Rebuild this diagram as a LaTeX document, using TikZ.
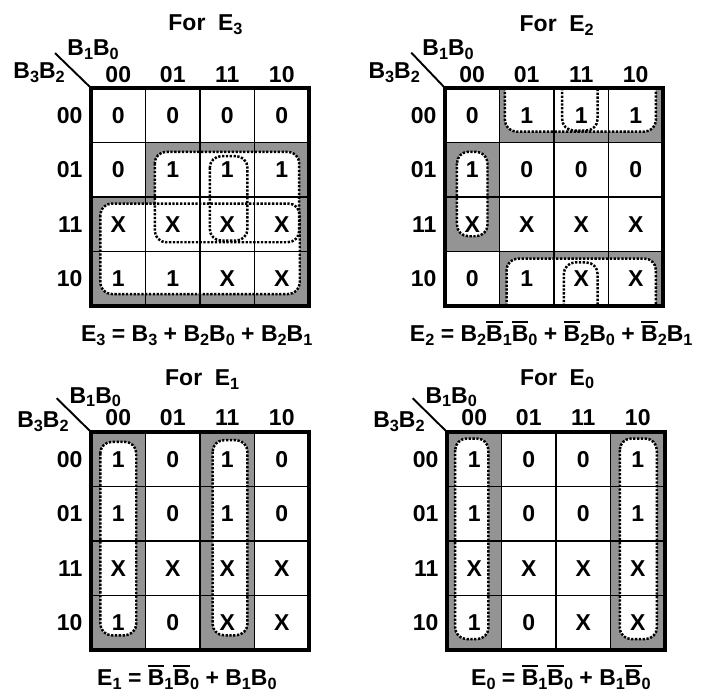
\documentclass[tikz,border=0pt]{standalone}
\usepackage{fontspec}
\setmainfont{Liberation Sans}
\newcommand\sub[1]{\raisebox{-2pt}{\fontsize{8.5}{9}\selectfont #1}}
\newcommand\nb[1]{\vbox{\hrule height 1.1pt\kern 1.2pt\hbox{#1}}}

\begin{document}
\begin{tikzpicture}[
  txt/.style={font=\bfseries\fontsize{12}{14}\selectfont, inner sep=0pt},
  title/.style={txt, anchor=base},
  hdr/.style={txt, anchor=base},
  rowlbl/.style={txt, anchor=east},
  val/.style={txt},
  eqn/.style={txt, anchor=base},
  shade/.style={fill=black!42},
  hole/.style={fill=white, rounded corners=6pt},
  kloop/.style={line width=1.3pt, dash pattern=on 1.2pt off 0.8pt, rounded corners=6pt},
  cellgrid/.style={line width=1pt},
  frame/.style={line width=2pt},
]
\useasboundingbox (0,0) rectangle (12.936,-12.789);

% ---------- Map for E3 ----------
\begin{scope}[shift={(1.67,-1.615)}]
\fill[shade] (1,-1) rectangle (4,-2) (0,-2) rectangle (4,-4);
\fill[hole] (1.17,-1.17) rectangle (3.82,-2.83);
\fill[hole] (0.17,-2.12) rectangle (3.83,-3.78);
\draw[cellgrid] (0,-4) grid (4,0);
\draw[frame] (0,0) rectangle (4,-4);
\draw[kloop] (1.17,-1.17) rectangle (3.82,-2.83);
\draw[kloop] (2.18,-1.25) rectangle (2.87,-2.8);
\draw[kloop] (0.17,-2.12) rectangle (3.83,-3.78);
\coordinate (e3o) at (0,0);
\draw[line width=1pt] (e3o) -- ++(-0.66,0.64);
\node[title] (e3t) at (2.1,1.05) {For\hspace{0.55em}E\sub{3}};
\node[hdr, anchor=base west] (e3b10) at (-0.44,0.6) {B\sub{1}B\sub{0}};
\node[hdr, anchor=base west] (e3b32) at (-1.43,0.18) {B\sub{3}B\sub{2}};
\foreach \l [count=\c from 0] in {00,01,11,10}
  \node[hdr] (e3c\c) at (\c+0.5,0.1) {\l};
\foreach \l [count=\r from 0] in {00,01,11,10}
  \node[rowlbl] (e3r\r) at (-0.15,-\r-0.5) {\l};
\foreach \v [count=\i from 0] in {0,0,0,0, 0,1,1,1, X,X,X,X, 1,1,X,X}{
  \pgfmathtruncatemacro\cc{mod(\i,4)}
  \pgfmathtruncatemacro\rr{\i/4}
  \node[val] (e3v\rr\cc) at (\cc+0.5,-\rr-0.5) {\v};
}
\node[eqn] (e3eq) at (1.94,-4.65) {E\sub{3} = B\sub{3} + B\sub{2}B\sub{0} + B\sub{2}B\sub{1}};
\end{scope}

% ---------- Map for E2 ----------
\begin{scope}[shift={(8.165,-1.615)}]
\fill[shade] (1,0) rectangle (4,-1) (1,-3) rectangle (4,-4) (0,-1) rectangle (1,-3);
\fill[hole] (1.1,0.3) -- (1.1,-0.8) -- (3.87,-0.8) -- (3.87,0.3) -- cycle;
\fill[hole] (1.13,-4.3) -- (1.13,-3.13) -- (3.87,-3.13) -- (3.87,-4.3) -- cycle;
\fill[hole] (0.22,-1.17) rectangle (0.78,-2.72);
\draw[cellgrid] (0,-4) grid (4,0);
\draw[frame] (0,0) rectangle (4,-4);
\draw[kloop] (1.1,0) -- (1.1,-0.8) -- (3.87,-0.8) -- (3.87,0);
\draw[kloop] (2.15,0) -- (2.15,-0.78) -- (2.8,-0.78) -- (2.8,0);
\draw[kloop] (1.13,-4) -- (1.13,-3.13) -- (3.87,-3.13) -- (3.87,-4);
\draw[kloop] (2.18,-4) -- (2.18,-3.2) -- (2.8,-3.2) -- (2.8,-4);
\draw[kloop] (0.22,-1.17) rectangle (0.78,-2.72);
\coordinate (e2o) at (0,0);
\draw[line width=1pt] (e2o) -- ++(-0.62,0.65);
\node[title] (e2t) at (2.05,1.03) {For\hspace{0.55em}E\sub{2}};
\node[hdr, anchor=base west] (e2b10) at (-0.42,0.6) {B\sub{1}B\sub{0}};
\node[hdr, anchor=base west] (e2b32) at (-1.41,0.18) {B\sub{3}B\sub{2}};
\foreach \l [count=\c from 0] in {00,01,11,10}
  \node[hdr] (e2c\c) at (\c+0.5,0.1) {\l};
\foreach \l [count=\r from 0] in {00,01,11,10}
  \node[rowlbl] (e2r\r) at (-0.15,-\r-0.5) {\l};
\foreach \v [count=\i from 0] in {0,1,1,1, 1,0,0,0, X,X,X,X, 0,1,X,X}{
  \pgfmathtruncatemacro\cc{mod(\i,4)}
  \pgfmathtruncatemacro\rr{\i/4}
  \node[val] (e2v\rr\cc) at (\cc+0.5,-\rr-0.5) {\v};
}
\node[eqn] (e2eq) at (1.95,-4.65) {E\sub{2} = B\sub{2}\nb{B}\sub{1}\nb{B}\sub{0} + \nb{B}\sub{2}B\sub{0} + \nb{B}\sub{2}B\sub{1}};
\end{scope}

% ---------- Map for E1 ----------
\begin{scope}[shift={(1.67,-7.927)}]
\fill[shade] (0,0) rectangle (1,-4) (2,0) rectangle (3,-4);
\fill[hole] (0.17,-0.18) rectangle (0.83,-3.73);
\fill[hole] (2.23,-0.15) rectangle (2.87,-3.73);
\draw[cellgrid] (0,-4) grid (4,0);
\draw[frame] (0,0) rectangle (4,-4);
\draw[kloop] (0.17,-0.18) rectangle (0.83,-3.73);
\draw[kloop] (2.23,-0.15) rectangle (2.87,-3.73);
\coordinate (e1o) at (0,0);
\draw[line width=1pt] (e1o) -- ++(-0.63,0.62);
\node[title] (e1t) at (2.04,0.85) {For\hspace{0.55em}E\sub{1}};
\node[hdr, anchor=base west] (e1b10) at (-0.4,0.53) {B\sub{1}B\sub{0}};
\node[hdr, anchor=base west] (e1b32) at (-1.36,0.08) {B\sub{3}B\sub{2}};
\foreach \l [count=\c from 0] in {00,01,11,10}
  \node[hdr] (e1c\c) at (\c+0.5,0.12) {\l};
\foreach \l [count=\r from 0] in {00,01,11,10}
  \node[rowlbl] (e1r\r) at (-0.15,-\r-0.5) {\l};
\foreach \v [count=\i from 0] in {1,0,1,0, 1,0,1,0, X,X,X,X, 1,0,X,X}{
  \pgfmathtruncatemacro\cc{mod(\i,4)}
  \pgfmathtruncatemacro\rr{\i/4}
  \node[val] (e1v\rr\cc) at (\cc+0.5,-\rr-0.5) {\v};
}
\node[eqn] (e1eq) at (1.76,-4.65) {E\sub{1} = \nb{B}\sub{1}\nb{B}\sub{0} + B\sub{1}B\sub{0}};
\end{scope}

% ---------- Map for E0 ----------
\begin{scope}[shift={(8.202,-7.927)}]
\fill[shade] (0,0) rectangle (1,-4) (3,0) rectangle (4,-4);
\fill[hole] (0.15,-0.12) rectangle (0.76,-3.8);
\fill[hole] (3.17,-0.12) rectangle (3.85,-3.8);
\draw[cellgrid] (0,-4) grid (4,0);
\draw[frame] (0,0) rectangle (4,-4);
\draw[kloop] (0.15,-0.12) rectangle (0.76,-3.8);
\draw[kloop] (3.17,-0.12) rectangle (3.85,-3.8);
\coordinate (e0o) at (0,0);
\draw[line width=1pt] (e0o) -- ++(-0.63,0.62);
\node[title] (e0t) at (2.02,0.86) {For\hspace{0.55em}E\sub{0}};
\node[hdr, anchor=base west] (e0b10) at (-0.4,0.53) {B\sub{1}B\sub{0}};
\node[hdr, anchor=base west] (e0b32) at (-1.36,0.08) {B\sub{3}B\sub{2}};
\foreach \l [count=\c from 0] in {00,01,11,10}
  \node[hdr] (e0c\c) at (\c+0.5,0.12) {\l};
\foreach \l [count=\r from 0] in {00,01,11,10}
  \node[rowlbl] (e0r\r) at (-0.15,-\r-0.5) {\l};
\foreach \v [count=\i from 0] in {1,0,0,1, 1,0,0,1, X,X,X,X, 1,0,X,X}{
  \pgfmathtruncatemacro\cc{mod(\i,4)}
  \pgfmathtruncatemacro\rr{\i/4}
  \node[val] (e0v\rr\cc) at (\cc+0.5,-\rr-0.5) {\v};
}
\node[eqn] (e0eq) at (2.09,-4.65) {E\sub{0} = \nb{B}\sub{1}\nb{B}\sub{0} + B\sub{1}\nb{B}\sub{0}};
\end{scope}
\end{tikzpicture}
\end{document}
